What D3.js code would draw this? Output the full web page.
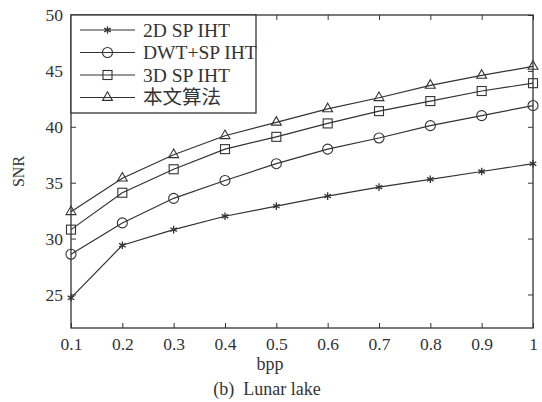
<!DOCTYPE html>
<html>
<head>
<meta charset="utf-8">
<script src="https://cdn.jsdelivr.net/npm/d3@7"></script>
<style>
  body { margin: 0; background: #fff; }
  svg text { font-family: "Liberation Serif", "Noto Sans CJK SC", serif; fill: #333; }
</style>
</head>
<body>
<div class="chart"></div>
<script>
var svgWidth = 542;
var svgHeight = 402;

var margin = { top: 15, right: 9, bottom: 74, left: 71 };
var width = svgWidth - margin.left - margin.right;
var height = svgHeight - margin.top - margin.bottom;

// data
var bpp = [0.1, 0.2, 0.3, 0.4, 0.5, 0.6, 0.7, 0.8, 0.9, 1.0];
var seriesNames = ["2D SP IHT", "DWT+SP IHT", "3D SP IHT", "本文算法"];
var snr2dSpiht = [24.7, 29.4, 30.8, 32.0, 32.9, 33.8, 34.6, 35.3, 36.0, 36.7];
var snrDwtSpiht = [28.6, 31.4, 33.6, 35.2, 36.7, 38.0, 39.0, 40.1, 41.0, 41.9];
var snr3dSpiht = [30.8, 34.1, 36.2, 38.0, 39.1, 40.3, 41.4, 42.3, 43.2, 43.9];
var snrOurs = [32.4, 35.4, 37.5, 39.2, 40.4, 41.6, 42.6, 43.7, 44.6, 45.4];
var yTicks = [25, 30, 35, 40, 45, 50];

var allSeries = [snr2dSpiht, snrDwtSpiht, snr3dSpiht, snrOurs];
var markers = ["star", "circle", "square", "triangle"];
var ink = "#333";

var svg = d3.select(".chart")
  .append("svg")
  .attr("width", svgWidth)
  .attr("height", svgHeight);

var chartGroup = svg.append("g")
  .attr("transform", `translate(${margin.left}, ${margin.top})`);

var xScale = d3.scaleLinear().domain([0.1, 1]).range([0, width]);
var yScale = d3.scaleLinear().domain([22, 50]).range([height, 0]);

// draw a marker of a given kind into a group
function drawMarker(g, kind, x, y) {
  if (kind === "circle") {
    g.append("circle").attr("cx", x).attr("cy", y).attr("r", 5)
      .attr("fill", "none").attr("stroke", ink).attr("stroke-width", 1.1);
  } else if (kind === "square") {
    g.append("rect").attr("x", x - 4.5).attr("y", y - 4.5)
      .attr("width", 9).attr("height", 9)
      .attr("fill", "none").attr("stroke", ink).attr("stroke-width", 1.1);
  } else if (kind === "triangle") {
    g.append("path").attr("transform", `translate(${x}, ${y})`)
      .attr("d", d3.symbol().type(d3.symbolTriangle2).size(70)())
      .attr("fill", "none").attr("stroke", ink).attr("stroke-width", 1.1);
  } else {
    g.append("path").attr("transform", `translate(${x}, ${y})`)
      .attr("d", d3.symbol().type(d3.symbolAsterisk).size(40)())
      .attr("fill", "none").attr("stroke", ink).attr("stroke-width", 1.3);
  }
}

// axes box with inward ticks (bottom / left labelled)
var bottomAxis = d3.axisBottom(xScale).tickValues(bpp)
  .tickFormat(d => d === 1 ? "1" : d3.format(".1f")(d))
  .tickSizeInner(-5).tickSizeOuter(0).tickPadding(10);
var leftAxis = d3.axisLeft(yScale).tickValues(yTicks)
  .tickSizeInner(-5).tickSizeOuter(0).tickPadding(8);
var topAxis = d3.axisTop(xScale).tickValues(bpp).tickFormat("")
  .tickSizeInner(-5).tickSizeOuter(0);
var rightAxis = d3.axisRight(yScale).tickValues(yTicks).tickFormat("")
  .tickSizeInner(-5).tickSizeOuter(0);

var axes = [
  chartGroup.append("g").attr("transform", `translate(0, ${height})`).call(bottomAxis),
  chartGroup.append("g").call(leftAxis),
  chartGroup.append("g").call(topAxis),
  chartGroup.append("g").attr("transform", `translate(${width}, 0)`).call(rightAxis)
];
axes.forEach(function(a) {
  a.select(".domain").remove();
  a.selectAll("line").attr("stroke", ink).attr("stroke-width", 1);
  a.selectAll("text").attr("font-size", 17.5).attr("fill", ink);
});

chartGroup.append("rect")
  .attr("width", width).attr("height", height)
  .attr("fill", "none").attr("stroke", ink).attr("stroke-width", 1.3);

// lines and markers
var line = d3.line()
  .x((d, i) => xScale(bpp[i]))
  .y(d => yScale(d));

allSeries.forEach(function(values, k) {
  chartGroup.append("path")
    .datum(values)
    .attr("d", line)
    .attr("fill", "none")
    .attr("stroke", ink)
    .attr("stroke-width", 1.2);
  var mg = chartGroup.append("g");
  values.forEach(function(v, i) {
    drawMarker(mg, markers[k], xScale(bpp[i]), yScale(v));
  });
});

// legend
var legend = chartGroup.append("g");
legend.append("rect")
  .attr("x", 0).attr("y", 0).attr("width", 185).attr("height", 98)
  .attr("fill", "#fff").attr("stroke", ink).attr("stroke-width", 1.3);

seriesNames.forEach(function(name, k) {
  var ly = 15 + k * 22.5;
  legend.append("line")
    .attr("x1", 9).attr("x2", 64).attr("y1", ly).attr("y2", ly)
    .attr("stroke", ink).attr("stroke-width", 1.2);
  drawMarker(legend, markers[k], 36.5, ly);
  legend.append("text")
    .attr("x", 72).attr("y", ly + 6.5)
    .attr("font-size", 19.5)
    .text(name);
});

// axis titles and caption
svg.append("text")
  .attr("transform", `translate(24, ${margin.top + yScale(36)}) rotate(-90)`)
  .attr("text-anchor", "middle")
  .attr("font-size", 16)
  .text("SNR");

svg.append("text")
  .attr("x", margin.left + width / 2 - 32).attr("y", 370)
  .attr("text-anchor", "middle")
  .attr("font-size", 18)
  .text("bpp");

svg.append("text")
  .attr("x", margin.left + width / 2 - 35).attr("y", 395)
  .attr("text-anchor", "middle")
  .attr("font-size", 18)
  .attr("xml:space", "preserve")
  .text("(b)  Lunar lake");
</script>
</body>
</html>
